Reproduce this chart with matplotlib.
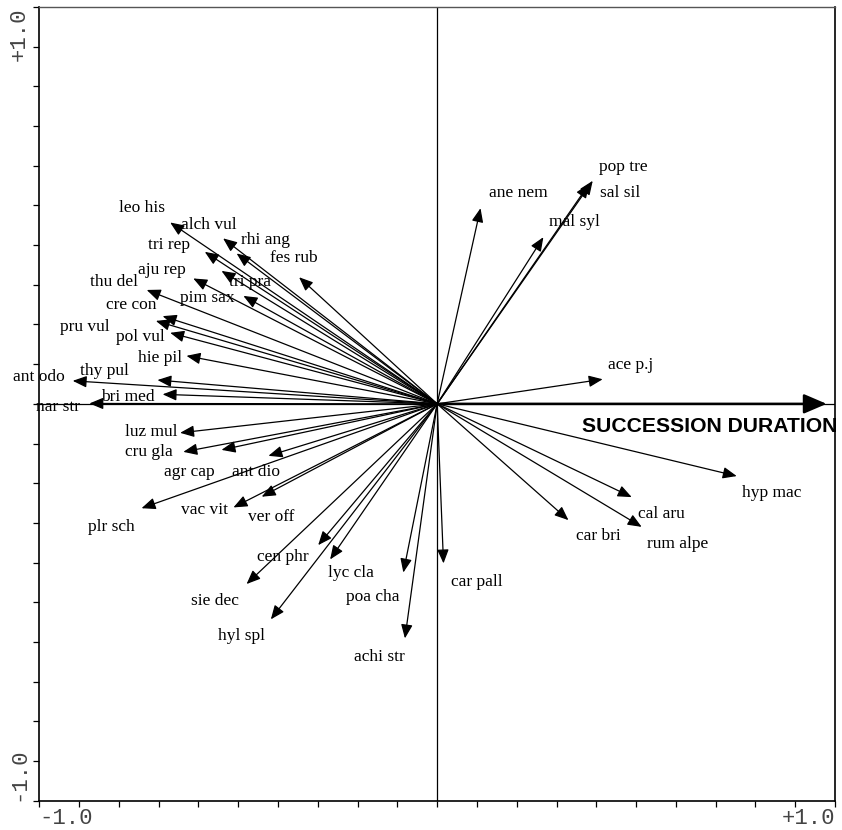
import numpy as np
import matplotlib
matplotlib.use("Agg")
import matplotlib.pyplot as plt

# species arrows (tip coordinates in ordination space)
species = ["leo his", "alch vul", "tri rep", "rhi ang", "fes rub", "aju rep", "tri pra",
           "pim sax", "thu del", "cre con", "pru vul", "pol vul", "hie pil", "thy pul",
           "ant odo", "bri med", "nar str",
           "luz mul", "cru gla", "agr cap", "ant dio", "plr sch", "vac vit", "ver off",
           "cen phr", "lyc cla", "poa cha", "sie dec", "hyl spl", "achi str",
           "ane nem", "pop tre", "sal sil", "mal syl", "ace p.j", "hyp mac", "cal aru",
           "car bri", "rum alpe", "car pall"]
tip_x = [-0.671, -0.538, -0.584, -0.504, -0.347, -0.613, -0.542,
         -0.487, -0.730, -0.690, -0.707, -0.671, -0.630, -0.703,
         -0.916, -0.690, -0.874,
         -0.646, -0.638, -0.542, -0.424, -0.743, -0.512, -0.441,
         -0.299, -0.269, -0.085, -0.479, -0.418, -0.081,
         0.109, 0.391, 0.382, 0.267, 0.416, 0.753, 0.489,
         0.330, 0.514, 0.016]
tip_y = [0.457, 0.417, 0.383, 0.379, 0.319, 0.316, 0.335,
         0.272, 0.287, 0.221, 0.209, 0.179, 0.121, 0.060,
         0.058, 0.024, 0.001,
         -0.073, -0.121, -0.116, -0.131, -0.263, -0.261, -0.234,
         -0.356, -0.392, -0.425, -0.454, -0.543, -0.591,
         0.493, 0.562, 0.554, 0.420, 0.062, -0.182, -0.235,
         -0.293, -0.310, -0.402]
# label anchor positions
lab_x = [-0.743, -0.573, -0.674, -0.431, -0.360, -0.692, -0.470,
         -0.577, -0.812, -0.770, -0.885, -0.747, -0.697, -0.837,
         -1.001, -0.778, -0.954,
         -0.719, -0.724, -0.624, -0.455, -0.820, -0.586, -0.416,
         -0.389, -0.217, -0.161, -0.558, -0.493, -0.146,
         0.203, 0.467, 0.461, 0.346, 0.487, 0.841, 0.563,
         0.404, 0.605, 0.099]
lab_y = [0.493, 0.451, 0.400, 0.413, 0.367, 0.337, 0.308,
         0.266, 0.308, 0.249, 0.193, 0.169, 0.115, 0.084,
         0.067, 0.018, -0.007,
         -0.072, -0.122, -0.171, -0.171, -0.310, -0.267, -0.284,
         -0.386, -0.427, -0.487, -0.496, -0.585, -0.638,
         0.531, 0.598, 0.531, 0.459, 0.098, -0.225, -0.278,
         -0.333, -0.353, -0.448]

# environmental variable
env_name = "SUCCESSION DURATION"
env_x = 0.979
env_y = 0.0
env_lab = (0.364, -0.058)

fig = plt.figure(figsize=(8.42, 8.30), dpi=100)
ax = fig.add_axes([39.3 / 842, 1 - 800.7 / 830, (835 - 39.3) / 842, (800.7 - 7) / 830])
ax.set_xlim(-1, 1)
ax.set_ylim(-1, 1)

ax.axvline(0, color="black", lw=0.9, zorder=1)
ax.axhline(0, color="black", lw=0.9, zorder=1)

for name, x, y, lx, ly in zip(species, tip_x, tip_y, lab_x, lab_y):
    ax.annotate("", xy=(x, y), xytext=(0, 0),
                arrowprops=dict(arrowstyle="-|>,head_length=0.6,head_width=0.25",
                                lw=0.9, color="black", shrinkA=0, shrinkB=0,
                                mutation_scale=14))
    ax.text(lx, ly, name, ha="center", va="center", fontsize=12.5,
            family="Liberation Serif", color="black")

ax.annotate("", xy=(env_x, env_y), xytext=(0, 0),
            arrowprops=dict(arrowstyle="-|>,head_length=0.7,head_width=0.3",
                            lw=1.8, color="black", shrinkA=0, shrinkB=0,
                            mutation_scale=20))
ax.text(env_lab[0], env_lab[1], env_name, ha="left", va="center", fontsize=15.2,
        family="Liberation Sans", fontweight="bold", color="black", clip_on=False)

ticks = np.round(np.arange(-1, 1.0001, 0.1), 1)
xlabels = ["" for _ in ticks]
xlabels[0] = "-1.0"
xlabels[-1] = "+1.0"
ax.set_xticks(ticks)
ax.set_xticklabels(xlabels, family="Liberation Mono", fontsize=16, color="#444444")
ax.set_yticks(ticks)
ax.set_yticklabels(xlabels, family="Liberation Mono", fontsize=16, color="#444444",
                   rotation=90)
xt = ax.get_xticklabels()
xt[0].set_ha("left")
xt[-1].set_ha("right")
yt = ax.get_yticklabels()
yt[0].set_va("bottom")
yt[-1].set_va("top")
ax.tick_params(axis="both", direction="out", length=4, width=0.9, color="black")
ax.tick_params(axis="x", pad=1.5)
ax.tick_params(axis="y", pad=3)

for s in ["left", "bottom", "right"]:
    ax.spines[s].set_color("black")
    ax.spines[s].set_linewidth(1.2)
ax.spines["top"].set_color("#555555")
ax.spines["top"].set_linewidth(1.0)

fig.savefig("out.png", dpi=100)
